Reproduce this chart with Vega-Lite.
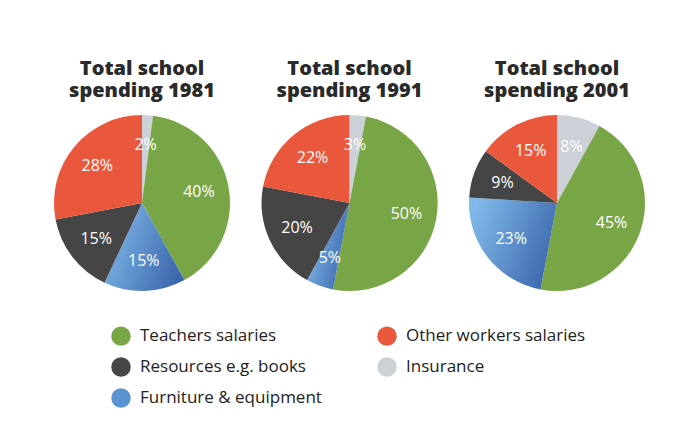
{
  "$schema": "https://vega.github.io/schema/vega-lite/v6.json",
  "background": "white",
  "padding": {"left": 42, "top": 59, "right": 10, "bottom": 10},
  "config": {
    "view": {"stroke": null},
    "title": {"font": "Open Sans", "fontSize": 20, "fontWeight": 800, "color": "#2a2a2a", "lineHeight": 22, "offset": 12, "anchor": "middle"}
  },
  "datasets": {
    "spend": [
      {"year": 1981, "category": "Insurance", "value": 2, "order": 1},
      {"year": 1981, "category": "Teachers salaries", "value": 40, "order": 2},
      {"year": 1981, "category": "Furniture & equipment", "value": 15, "order": 3},
      {"year": 1981, "category": "Resources e.g. books", "value": 15, "order": 4},
      {"year": 1981, "category": "Other workers salaries", "value": 28, "order": 5},
      {"year": 1991, "category": "Insurance", "value": 3, "order": 1},
      {"year": 1991, "category": "Teachers salaries", "value": 50, "order": 2},
      {"year": 1991, "category": "Furniture & equipment", "value": 5, "order": 3},
      {"year": 1991, "category": "Resources e.g. books", "value": 20, "order": 4},
      {"year": 1991, "category": "Other workers salaries", "value": 22, "order": 5},
      {"year": 2001, "category": "Insurance", "value": 8, "order": 1},
      {"year": 2001, "category": "Teachers salaries", "value": 45, "order": 2},
      {"year": 2001, "category": "Furniture & equipment", "value": 23, "order": 3},
      {"year": 2001, "category": "Resources e.g. books", "value": 9, "order": 4},
      {"year": 2001, "category": "Other workers salaries", "value": 15, "order": 5}
    ]
  },
  "data": {"name": "spend"},
  "transform": [{"calculate": "datum.value + '%'", "as": "label"}],
  "spacing": 7.5,
  "resolve": {"scale": {"fill": "shared"}},
  "hconcat": [
    {
      "width": 200, "height": 180,
      "title": {"text": ["Total school", "spending 1981"]},
      "transform": [{"filter": "datum.year === 1981"}],
      "encoding": {
        "theta": {"field": "value", "type": "quantitative", "stack": true, "scale": {"domain": [0, 100]}},
        "order": {"field": "order", "type": "quantitative", "sort": "ascending"}
      },
      "layer": [
        {"mark": {"type": "arc", "outerRadius": 88},
         "encoding": {"fill": {"condition": {"test": "datum.category === 'Furniture & equipment'", "value": {"gradient": "linear", "x1": 0, "y1": 0.3, "x2": 1, "y2": 0.7, "stops": [{"offset": 0, "color": "#80b8e8"}, {"offset": 1, "color": "#3a66ad"}]}},
           "field": "category", "type": "nominal", "title": null,
           "scale": {"domain": ["Teachers salaries", "Resources e.g. books", "Furniture & equipment", "Other workers salaries", "Insurance"], "range": ["#78a545", "#454545", "#5b93d0", "#e9583c", "#ccd0d7"]},
           "legend": {"orient": "none", "legendX": 69, "legendY": 213, "columns": 2, "columnPadding": 55, "rowPadding": 11, "symbolType": "circle", "symbolSize": 380, "symbolStrokeWidth": 0, "labelFont": "Open Sans", "labelFontSize": 17, "labelColor": "#222222", "labelOffset": 9, "labelLimit": 300, "padding": 0}}}},
        {"mark": {"type": "text", "radius": 58, "font": "Open Sans", "fontSize": 16, "color": "white"},
         "encoding": {"text": {"field": "label", "type": "nominal"}, "detail": {"field": "category"}}}
      ]
    },
    {
      "width": 200, "height": 180,
      "title": {"text": ["Total school", "spending 1991"]},
      "transform": [{"filter": "datum.year === 1991"}],
      "encoding": {
        "theta": {"field": "value", "type": "quantitative", "stack": true, "scale": {"domain": [0, 100]}},
        "order": {"field": "order", "type": "quantitative", "sort": "ascending"}
      },
      "layer": [
        {"mark": {"type": "arc", "outerRadius": 88},
         "encoding": {"fill": {"condition": {"test": "datum.category === 'Furniture & equipment'", "value": {"gradient": "linear", "x1": 0, "y1": 0.3, "x2": 1, "y2": 0.7, "stops": [{"offset": 0, "color": "#80b8e8"}, {"offset": 1, "color": "#3a66ad"}]}},
           "field": "category", "type": "nominal", "title": null}}},
        {"mark": {"type": "text", "radius": 58, "font": "Open Sans", "fontSize": 16, "color": "white"},
         "encoding": {"text": {"field": "label", "type": "nominal"}, "detail": {"field": "category"}}}
      ]
    },
    {
      "width": 200, "height": 180,
      "title": {"text": ["Total school", "spending 2001"]},
      "transform": [{"filter": "datum.year === 2001"}],
      "encoding": {
        "theta": {"field": "value", "type": "quantitative", "stack": true, "scale": {"domain": [0, 100]}},
        "order": {"field": "order", "type": "quantitative", "sort": "ascending"}
      },
      "layer": [
        {"mark": {"type": "arc", "outerRadius": 88},
         "encoding": {"fill": {"condition": {"test": "datum.category === 'Furniture & equipment'", "value": {"gradient": "linear", "x1": 0, "y1": 0.3, "x2": 1, "y2": 0.7, "stops": [{"offset": 0, "color": "#80b8e8"}, {"offset": 1, "color": "#3a66ad"}]}},
           "field": "category", "type": "nominal", "title": null}}},
        {"mark": {"type": "text", "radius": 58, "font": "Open Sans", "fontSize": 16, "color": "white"},
         "encoding": {"text": {"field": "label", "type": "nominal"}, "detail": {"field": "category"}}}
      ]
    }
  ]
}
